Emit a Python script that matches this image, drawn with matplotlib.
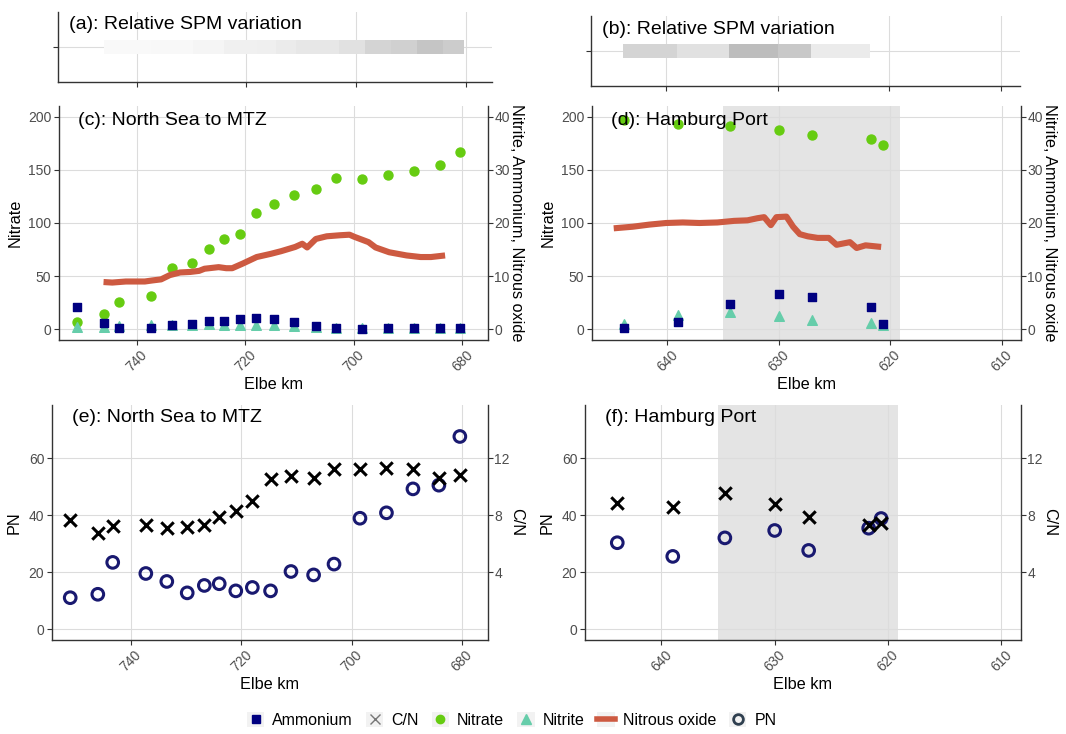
import matplotlib.pyplot as plt
import numpy as np
from matplotlib.colors import LinearSegmentedColormap
from matplotlib.lines import Line2D
from matplotlib.patches import Patch

plt.rcParams['font.family'] = ['Liberation Sans', 'DejaVu Sans']

# North Sea to MTZ stations (Elbe km)
km_sea = [751.0, 746.0, 743.3, 737.3, 733.5, 729.8, 726.7, 724.0, 721.0, 718.0,
          714.7, 711.0, 706.9, 703.2, 698.5, 693.7, 688.9, 684.2, 680.4]
nitrate_sea = [7, 14, 26, 31, 58, 62, 76, 85, 90, 109, 118, 126, 132, 142, 141, 145, 148.5, 155, 167]
ammonium_sea = [4.2, 1.2, 0.3, 0.3, 0.9, 1.1, 1.6, 1.6, 1.9, 2.1, 1.9, 1.4, 0.6, 0.2, 0.1, 0.3, 0.25, 0.3, 0.3]
nitrite_sea = [0.4, 0.4, 0.7, 0.8, 0.9, 0.9, 1.0, 0.9, 0.9, 0.9, 0.9, 0.7, 0.5, 0.3, 0.2, 0.2, 0.2, 0.2, 0.2]
pn_sea = [11.1, 12.3, 23.5, 19.6, 16.8, 12.8, 15.4, 16.0, 13.5, 14.7, 13.5, 20.3, 19.1, 22.9, 39.0, 40.9, 49.3, 50.6, 67.7]
cn_sea = [7.68, 6.75, 7.26, 7.33, 7.10, 7.17, 7.29, 7.92, 8.34, 9.04, 10.58, 10.74, 10.65, 11.28, 11.28, 11.32, 11.25, 10.62, 10.81]
# relative SPM between consecutive stations (station 2 onwards)
spm_sea = [0.05, 0.05, 0.055, 0.06, 0.08, 0.08, 0.12, 0.12, 0.13, 0.16, 0.19, 0.19, 0.24, 0.34, 0.37, 0.46, 0.40]

# continuous nitrous oxide record
n2o_km_sea = [746.1, 744.5, 742.0, 740.3, 738.5, 737.1, 735.5, 733.9, 732.0, 730.1, 728.5, 727.5,
              724.9, 723.5, 722.4, 720.4, 717.9, 715.3, 713.4, 710.8, 709.5, 708.6, 708.0, 707.0,
              705.0, 702.5, 700.8, 699.9, 697.3, 696.0, 693.5, 690.3, 687.7, 685.8, 683.2]
n2o_sea = [8.9, 8.8, 9.0, 9.0, 9.0, 9.2, 9.4, 10.2, 10.7, 10.8, 11.0, 11.4,
           11.7, 11.5, 11.5, 12.4, 13.6, 14.2, 14.7, 15.5, 16.1, 15.4, 16.0, 17.0,
           17.5, 17.7, 17.8, 17.4, 16.4, 15.4, 14.5, 13.9, 13.6, 13.6, 13.9]

# Hamburg Port stations
km_port = [643.9, 639.0, 634.4, 630.0, 627.0, 621.7, 620.6]
nitrate_port = [197, 193, 191, 187.3, 182.7, 179, 173.6]
ammonium_port = [0.25, 1.3, 4.8, 6.7, 6.1, 4.2, 1.0]
nitrite_port = [1.1, 2.7, 3.2, 2.5, 1.7, 1.2, 0.8]
pn_port = [30.4, 25.6, 32.1, 34.7, 27.7, 35.5, 38.9]
cn_port = [8.9, 8.57, 9.57, 8.8, 7.87, 7.33, 7.45]
spm_port = [0.34, 0.24, 0.52, 0.43, 0.16]
port_zone = (635.0, 619.1)

n2o_km_port = [644.8, 643.1, 641.6, 640.1, 638.6, 637.1, 635.5, 634.0, 632.8, 631.9, 631.3, 630.7,
               630.2, 629.3, 628.7, 628.1, 627.4, 626.5, 625.5, 624.8, 623.6, 623.0, 622.2, 620.8]
n2o_port = [19.0, 19.3, 19.7, 20.0, 20.1, 20.0, 20.1, 20.4, 20.5, 20.9, 21.1, 19.6,
            21.1, 21.2, 19.3, 17.9, 17.5, 17.2, 17.2, 15.9, 16.4, 15.3, 15.8, 15.5]

sea_xlim = (754.3, 675.3)
port_xlim = (646.75, 608.25)
sea_ticks = [740, 720, 700, 680]
port_ticks = [640, 630, 620, 610]

C_AMM = '#000080'
C_NO3 = '#66CC11'
C_NO2 = '#66CDAA'
C_N2O = '#CD5A41'
C_PN = '#191970'
GRID = '#dcdcdc'
SPINE = '#333333'

W, H = 1066, 734
fig = plt.figure(figsize=(W / 100, H / 100), dpi=100)


def add_ax(l, t, r, b):
    return fig.add_axes([l / W, 1 - b / H, (r - l) / W, (b - t) / H])


def style(ax):
    for s in ['top', 'right']:
        ax.spines[s].set_visible(False)
    for s in ['left', 'bottom']:
        ax.spines[s].set_color(SPINE)
        ax.spines[s].set_linewidth(1.0)
    ax.grid(True, color=GRID, lw=0.8)
    ax.set_axisbelow(True)
    ax.tick_params(color=SPINE, labelcolor='#4d4d4d', labelsize=10, length=3.5, width=0.8, pad=2)


def style_right(ax2):
    for s in ['top', 'left', 'bottom']:
        ax2.spines[s].set_visible(False)
    ax2.spines['right'].set_color(SPINE)
    ax2.spines['right'].set_linewidth(1.0)
    ax2.tick_params(color=SPINE, labelcolor='#4d4d4d', labelsize=10, length=3.5, width=0.8, pad=1)


spm_cmap = LinearSegmentedColormap.from_list('spm', ['#ffffff', '#808080'])

# (a), (b): relative SPM strips
for (l, t, r, b), edges, vals, xlim, ticks, label, ty in [
        ((58, 12, 492, 82), km_sea[1:], spm_sea, sea_xlim, sea_ticks, '(a): Relative SPM variation', 0.82),
        ((591, 16, 1020, 86), km_port[:len(spm_port) + 1], spm_port, port_xlim, port_ticks, '(b): Relative SPM variation', 0.81)]:
    ax = add_ax(l, t, r, b)
    style(ax)
    ax.pcolormesh(edges, [0.875, 1.125], np.array(vals)[np.newaxis, :], cmap=spm_cmap, vmin=0, vmax=1)
    ax.set_xlim(*xlim)
    ax.set_ylim(0.4, 1.6)
    ax.set_xticks(ticks)
    ax.set_yticks([1])
    ax.set_xticklabels([])
    ax.set_yticklabels([])
    ax.text(0.025, ty, label, transform=ax.transAxes, fontsize=14, ha='left', va='center')

# (c), (d): nutrients and nitrous oxide
for (l, t, r, b), km, no3, nh4, no2, nkm, n2o, xlim, ticks, label, shade in [
        ((59, 106, 488, 340), km_sea, nitrate_sea, ammonium_sea, nitrite_sea, n2o_km_sea, n2o_sea,
         sea_xlim, sea_ticks, '(c): North Sea to MTZ', None),
        ((592, 106, 1021, 340), km_port, nitrate_port, ammonium_port, nitrite_port, n2o_km_port, n2o_port,
         port_xlim, port_ticks, '(d): Hamburg Port', port_zone)]:
    ax = add_ax(l, t, r, b)
    style(ax)
    if shade:
        ax.axvspan(*shade, facecolor='#bdbdbd', alpha=0.4, lw=0, zorder=0.5)
    ax.scatter(km, no3, s=42, color=C_NO3, zorder=3)
    ax.set_xlim(*xlim)
    ax.set_ylim(-10, 210)
    ax.set_yticks([0, 50, 100, 150, 200])
    ax.set_xticks(ticks)
    ax.set_xticklabels([str(v) for v in ticks], rotation=45)
    ax.set_xlabel('Elbe km', fontsize=11.7, labelpad=2)
    ax.set_ylabel('Nitrate', fontsize=11.7, labelpad=4)
    ax2 = ax.twinx()
    style_right(ax2)
    ax2.plot(nkm, n2o, color=C_N2O, lw=4.4, solid_capstyle='butt', zorder=2)
    ax2.scatter(km, no2, s=48, marker='^', color=C_NO2, zorder=3)
    ax2.scatter(km, nh4, s=40, marker='s', color=C_AMM, zorder=4)
    ax2.set_ylim(-2, 42)
    ax2.set_yticks([0, 10, 20, 30, 40])
    ax2.set_ylabel('Nitrite, Ammonium, Nitrous oxide', fontsize=11.7, rotation=-90, labelpad=10)
    ax2.text(0.045, 0.94, label, transform=ax2.transAxes, fontsize=14, ha='left', va='center', zorder=10)

# (e), (f): particulate nitrogen and C/N ratio
for (l, t, r, b), km, pn, cn, xlim, ticks, label, shade in [
        ((52, 405, 488, 640), km_sea, pn_sea, cn_sea, sea_xlim, sea_ticks, '(e): North Sea to MTZ', None),
        ((585, 405, 1021, 640), km_port, pn_port, cn_port, port_xlim, port_ticks, '(f): Hamburg Port', port_zone)]:
    ax = add_ax(l, t, r, b)
    style(ax)
    if shade:
        ax.axvspan(*shade, facecolor='#bdbdbd', alpha=0.4, lw=0, zorder=0.5)
    ax.scatter(km, pn, s=70, facecolors='none', edgecolors=C_PN, linewidths=2.2, zorder=3)
    ax.set_xlim(*xlim)
    ax.set_ylim(-3.75, 78.75)
    ax.set_yticks([0, 20, 40, 60])
    ax.set_xticks(ticks)
    ax.set_xticklabels([str(v) for v in ticks], rotation=45)
    ax.set_xlabel('Elbe km', fontsize=11.7, labelpad=2)
    ax.set_ylabel('PN', fontsize=11.7, labelpad=5)
    ax2 = ax.twinx()
    style_right(ax2)
    ax2.scatter(km, cn, s=80, marker='x', color='black', linewidths=2.2, zorder=4)
    ax2.set_ylim(-0.75, 15.75)
    ax2.set_yticks([4, 8, 12])
    ax2.set_ylabel('C/N', fontsize=11.7, rotation=-90, labelpad=10)
    ax2.text(0.045, 0.947, label, transform=ax2.transAxes, fontsize=14, ha='left', va='center', zorder=10)

# legend keys sit on a light grey square, one per series
key_bg = dict(facecolor='#f2f2f2', edgecolor='none')
handles = [
    (Patch(**key_bg), Line2D([], [], ls='', marker='s', color=C_AMM, ms=6)),
    (Patch(**key_bg), Line2D([], [], ls='', marker='x', color='#777777', ms=7, mew=1)),
    (Patch(**key_bg), Line2D([], [], ls='', marker='o', color=C_NO3, ms=6)),
    (Patch(**key_bg), Line2D([], [], ls='', marker='^', color=C_NO2, ms=7)),
    (Patch(**key_bg), Line2D([], [], color=C_N2O, lw=4)),
    (Patch(**key_bg), Line2D([], [], ls='', marker='o', mfc='none', mec='#2f3f4f', mew=2, ms=7)),
]
labels = ['Ammonium', 'C/N', 'Nitrate', 'Nitrite', 'Nitrous oxide', 'PN']
fig.legend(handles, labels, loc='center', bbox_to_anchor=(0.48, 1 - 720 / H), ncol=6, frameon=False,
           fontsize=11.5, handlelength=1.1, handleheight=1.1, columnspacing=0.8, handletextpad=0.5)

fig.savefig('out.png', dpi=100)
